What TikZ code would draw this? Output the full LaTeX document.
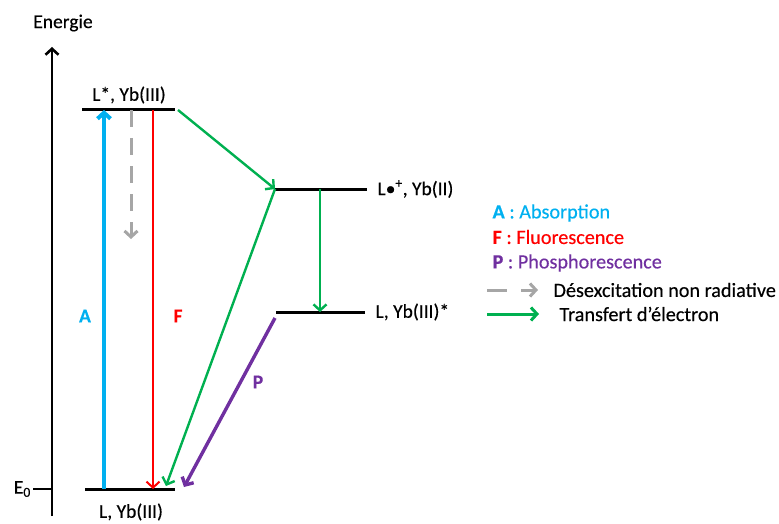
\documentclass[tikz,border=0pt]{standalone}
\usepackage{fontspec}
\setmainfont{Carlito}[FakeBold=0.35]
\usetikzlibrary{arrows.meta}
\definecolor{absCyan}{HTML}{00B0F0}
\definecolor{fluoRed}{HTML}{FF0000}
\definecolor{phosPurple}{HTML}{7030A0}
\definecolor{transGreen}{HTML}{00B050}
\definecolor{nradGrey}{HTML}{A6A6A6}
\begin{document}
\begin{tikzpicture}[x=1pt,y=-1pt,
  font=\fontsize{19.5}{22}\selectfont,
  >={Straight Barb[length=6pt,width=13pt]},
  level/.style={line width=3pt,draw=black},
  axis/.style={->,line width=2.6pt,draw=black},
  absorb/.style={->,line width=4pt,draw=absCyan},
  fluo/.style={->,line width=2pt,draw=fluoRed},
  phos/.style={->,line width=3.4pt,draw=phosPurple},
  transfer/.style={->,line width=2.4pt,draw=transGreen},
  nonrad/.style={->,line width=3pt,draw=nradGrey,dash pattern=on 17pt off 11pt},
  tag/.style={font=\fontsize{19.5}{22}\selectfont\bfseries},
  legend/.style={anchor=west,font=\fontsize{20.2}{23}\selectfont}
]
\useasboundingbox (0,0) rectangle (779,524);
% energy axis
\coordinate (axbot) at (52,516);
\coordinate (axtop) at (52,47);
\draw[axis] (axbot) -- (axtop);
\node (energie) at (63,23) {Energie};
\coordinate (tickw) at (33,489);
\coordinate (ticke) at (52,489);
\draw[line width=1.5pt] (tickw) -- (ticke);
\node[anchor=east,inner sep=2pt] (ezero) at (tickw) {E\textsubscript{0}};
% levels
\coordinate (excw) at (82,110);  \coordinate (exce) at (175,110);
\coordinate (gndw) at (85,489);  \coordinate (gnde) at (175,489);
\coordinate (radw) at (275,189); \coordinate (rade) at (367,189);
\coordinate (ybw) at (276,312);  \coordinate (ybe) at (365,312);
\draw[level] (excw) -- (exce);
\draw[level] (gndw) -- (gnde);
\draw[level] (radw) -- (rade);
\draw[level] (ybw) -- (ybe);
\node (excname) at (129,95) {L*, Yb(III)};
\node (gndname) at (131,512) {L, Yb(III)};
\node[anchor=west] (radname) at (374,189) {L•\textsuperscript{+}, Yb(II)};
\node[anchor=west] (ybname) at (372,312) {L, Yb(III)*};
% transitions
\coordinate (absbot) at (104,489); \coordinate (abstop) at (104,110);
\coordinate (nrtop) at (131,110);  \coordinate (nrbot) at (131,239);
\coordinate (fltop) at (153,110);  \coordinate (flbot) at (153,489);
\coordinate (etstart) at (178,110);
\coordinate (etback) at (166,486);
\coordinate (radmid) at (320,189); \coordinate (ybmid) at (320,312);
\coordinate (phstart) at (275,318); \coordinate (phend) at (184,487);
\draw[absorb] (absbot) -- (abstop);
\draw[nonrad] (nrtop) -- (nrbot);
\draw[fluo] (fltop) -- (flbot);
\draw[transfer] (etstart) -- (radw);
\draw[transfer] (radw) -- (etback);
\draw[transfer] (radmid) -- (ybmid);
\draw[phos] (phstart) -- (phend);
\node[tag,text=absCyan] (alabel) at (85,316) {A};
\node[tag,text=fluoRed] (flabel) at (178,316) {F};
\node[tag,text=phosPurple] (plabel) at (258,382) {P};
% legend
\node[legend,text=absCyan] (legabs) at (489,213) {\textbf{A} : Absorption};
\node[legend,text=fluoRed] (legfluo) at (489,237) {\textbf{F} : Fluorescence};
\node[legend,text=phosPurple] (legphos) at (489,263) {\textbf{P} : Phosphorescence};
\coordinate (nrlegw) at (487,290); \coordinate (nrlege) at (538,290);
\coordinate (etlegw) at (487,314); \coordinate (etlege) at (539,314);
\draw[nonrad,dash pattern=on 20pt off 14pt] (nrlegw) -- (nrlege);
\draw[transfer,line width=3pt] (etlegw) -- (etlege);
\node[legend] (legnr) at (550,290) {Désexcitation non radiative};
\node[legend] (leget) at (556,314) {Transfert d’électron};
\end{tikzpicture}
\end{document}
